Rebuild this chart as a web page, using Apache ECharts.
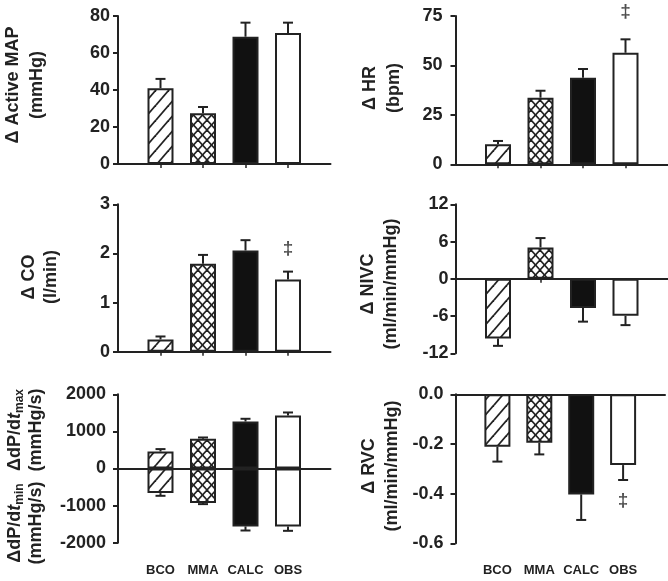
<!DOCTYPE html>
<html><head><meta charset="utf-8">
<script src="https://cdn.jsdelivr.net/npm/echarts@6/dist/echarts.min.js"></script>
<style>html,body{margin:0;padding:0;background:#fff}#c{width:668px;height:581px}</style>
</head><body><div id="c"></div>
<script>
// ---- data ----
const cats = ['BCO', 'MMA', 'CALC', 'OBS'];
const mapMean = [41, 27.4, 68.8, 70.8];
const mapErr = [5, 3.4, 7.6, 5.6];
const hrMean = [10.1, 33.7, 43.8, 56.4];
const hrErr = [1.7, 3.5, 4.4, 6.8];
const coMean = [0.25, 1.79, 2.06, 1.47];
const coErr = [0.06, 0.18, 0.21, 0.16];
const nivcMean = [-9.6, 5.06, -4.7, -5.96];
const nivcErr = [1.2, 1.5, 2.2, 1.5];
const dpMaxMean = [458, 800, 1267, 1429];
const dpMaxErr = [65, 36, 73, 81];
const dpMinMean = [-663, -933, -1563, -1563];
const dpMinErr = [73, 27, 108, 117];
const rvcMean = [-0.211, -0.195, -0.403, -0.285];
const rvcErr = [0.06, 0.047, 0.103, 0.06];
// significance markers (category index, y position)
const hrDagger = [[4, 77]];
const coDagger = [[4, 2.09]];
const rvcDagger = [[4, -0.43]];

// ---- patterns ----
function hatch() {
  const w = 13, h = 15, c = document.createElement('canvas');
  c.width = w; c.height = h; const g = c.getContext('2d');
  g.fillStyle = '#fff'; g.fillRect(0, 0, w, h);
  g.strokeStyle = '#222'; g.lineWidth = 1.8;
  [[0, 0], [-w, 0], [w, 0], [0, h], [0, -h]].forEach(([dx, dy]) => {
    g.beginPath(); g.moveTo(dx, h + dy); g.lineTo(w + dx, dy); g.stroke();
  });
  return c;
}
function cross() {
  const w = 9, h = 10, c = document.createElement('canvas');
  c.width = w; c.height = h; const g = c.getContext('2d');
  g.fillStyle = '#fff'; g.fillRect(0, 0, w, h);
  g.strokeStyle = '#222'; g.lineWidth = 1.6;
  [[0, 0], [-w, 0], [w, 0], [0, h], [0, -h]].forEach(([dx, dy]) => {
    g.beginPath(); g.moveTo(dx, h + dy); g.lineTo(w + dx, dy); g.stroke();
    g.beginPath(); g.moveTo(dx, dy); g.lineTo(w + dx, h + dy); g.stroke();
  });
  return c;
}
const fills = [{image: hatch(), repeat: 'repeat'}, {image: cross(), repeat: 'repeat'}, '#111', '#fff'];

const INK = '#222';
const FONT = 'Liberation Sans, Arial, sans-serif';
const FS = 18;
const xCats = [''].concat(cats, ['']);

const grids = [
  {left: 118, top: 16, width: 212.5, height: 148},
  {left: 455.5, top: 16, width: 212.5, height: 148.3},
  {left: 118, top: 204.3, width: 212.5, height: 147.4},
  {left: 455.5, top: 204.3, width: 212.5, height: 149},
  {left: 118, top: 394.3, width: 212.5, height: 148.4},
  {left: 455.5, top: 394.3, width: 212.5, height: 149}
];
const yCfg = [
  {min: 0, max: 80, interval: 20, margin: 8},
  {min: 0, max: 75, interval: 25, margin: 13},
  {min: 0, max: 3, interval: 1, margin: 8},
  {min: -12, max: 12, interval: 6, margin: 7},
  {min: -2000, max: 2000, interval: 1000, margin: 12},
  {min: -0.6, max: 0, interval: 0.2, margin: 12, fmt: v => v.toFixed(1)}
];

const xAxis = [], yAxis = [], series = [];
grids.forEach((g, i) => {
  xAxis.push({
    type: 'category', gridIndex: i, data: xCats, boundaryGap: false,
    axisLine: {onZero: true, lineStyle: {color: INK, width: 2}},
    axisTick: {show: true, interval: k => k >= 1 && k <= 4, length: 4, lineStyle: {color: INK, width: 1.5}},
    axisLabel: {show: false}, splitLine: {show: false}
  });
  const c = yCfg[i];
  yAxis.push({
    type: 'value', gridIndex: i, min: c.min, max: c.max, interval: c.interval,
    axisLine: {show: true, onZero: false, lineStyle: {color: INK, width: 2}},
    axisTick: {show: true, length: 5, lineStyle: {color: INK, width: 2}},
    axisLabel: {color: INK, fontSize: FS, fontWeight: 'bold', fontFamily: FONT, margin: c.margin,
      formatter: c.fmt ? c.fmt : (v => String(v))},
    splitLine: {show: false}
  });
});
// bottom category label axes
[4, 5].forEach(gi => {
  xAxis.push({
    type: 'category', gridIndex: gi, data: xCats, boundaryGap: false, position: 'bottom',
    axisLine: {show: false, onZero: false}, axisTick: {show: false},
    axisLabel: {show: true, interval: 0, color: INK, fontSize: 13, fontWeight: 'bold', fontFamily: FONT, margin: 21},
    splitLine: {show: false}
  });
});

function barSeries(gi, mean) {
  return {
    type: 'bar', xAxisIndex: gi, yAxisIndex: gi, barWidth: 26, barGap: '-100%',
    data: ['-'].concat(mean.map((v, k) => ({value: v, itemStyle: {color: fills[k], borderColor: INK, borderWidth: 2}})), ['-']),
    animation: false, z: 2
  };
}
function errSeries(gi, mean, err) {
  return {
    type: 'custom', xAxisIndex: gi, yAxisIndex: gi, z: 3, animation: false,
    data: mean.map((m, k) => [k + 1, m, err[k]]),
    encode: {x: 0, y: 1},
    renderItem: (p, api) => {
      const x = api.value(0), m = api.value(1), e = api.value(2);
      const a = api.coord([x, m]), b = api.coord([x, m + Math.sign(m) * e]);
      const st = {stroke: INK, lineWidth: 2};
      return {type: 'group', children: [
        {type: 'line', shape: {x1: a[0], y1: a[1], x2: b[0], y2: b[1]}, style: st},
        {type: 'line', shape: {x1: b[0] - 5, y1: b[1], x2: b[0] + 5, y2: b[1]}, style: st}
      ]};
    }
  };
}
function daggerSeries(gi, pts) {
  return {
    type: 'scatter', xAxisIndex: gi, yAxisIndex: gi, data: pts, symbolSize: 1, clip: false,
    itemStyle: {color: 'rgba(0,0,0,0)'}, animation: false,
    label: {show: true, position: 'inside', formatter: '‡', color: INK, fontSize: 19, fontWeight: 'bold', fontFamily: FONT}
  };
}
series.push(barSeries(0, mapMean), errSeries(0, mapMean, mapErr));
series.push(barSeries(1, hrMean), errSeries(1, hrMean, hrErr), daggerSeries(1, hrDagger));
series.push(barSeries(2, coMean), errSeries(2, coMean, coErr), daggerSeries(2, coDagger));
series.push(barSeries(3, nivcMean), errSeries(3, nivcMean, nivcErr));
series.push(barSeries(4, dpMaxMean), barSeries(4, dpMinMean), errSeries(4, dpMaxMean, dpMaxErr), errSeries(4, dpMinMean, dpMinErr));
series.push(barSeries(5, rvcMean), errSeries(5, rvcMean, rvcErr), daggerSeries(5, rvcDagger));

function title(x, y, text, lh) {
  return {type: 'text', x: x, y: y, rotation: Math.PI / 2,
    style: {text: text, fill: INK, font: 'bold ' + FS + 'px ' + FONT, textAlign: 'center', textVerticalAlign: 'middle', lineHeight: lh || 24}};
}
const rich = {
  n: {fontSize: FS, fontWeight: 'bold', fontFamily: FONT, color: INK},
  i: {fontSize: FS, fontWeight: 'bold', fontStyle: 'italic', fontFamily: FONT, color: INK},
  s: {fontSize: 12, fontWeight: 'bold', fontFamily: FONT, color: INK, verticalAlign: 'bottom', padding: [7, 0, 0, 0]}
};
function dpTitle(y, sub) {
  return {type: 'text', x: 26, y: y, rotation: Math.PI / 2,
    style: {text: '{n|ΔdP/d}{i|t}{s|' + sub + '}\n{n|(mmHg/s)}', rich: rich, textAlign: 'center', textVerticalAlign: 'middle', lineHeight: 21, font: 'bold ' + FS + 'px ' + FONT, fill: INK}};
}
const graphic = [
  title(25, 85, 'Δ Active MAP\n(mmHg)'),
  title(382, 88, 'Δ HR\n(bpm)'),
  title(40, 277, 'Δ CO\n(l/min)', 22),
  title(380, 284, 'Δ NIVC\n(ml/min/mmHg)', 23),
  title(381, 466, 'Δ RVC\n(ml/min/mmHg)', 23),
  dpTitle(430, 'max'),
  dpTitle(523, 'min')
];

const chart = echarts.init(document.getElementById('c'), null, {renderer: 'canvas'});
chart.setOption({
  animation: false, backgroundColor: '#fff',
  textStyle: {fontFamily: FONT},
  grid: grids.map(g => Object.assign({containLabel: false}, g)),
  xAxis: xAxis, yAxis: yAxis, series: series, graphic: graphic
});
</script></body></html>
